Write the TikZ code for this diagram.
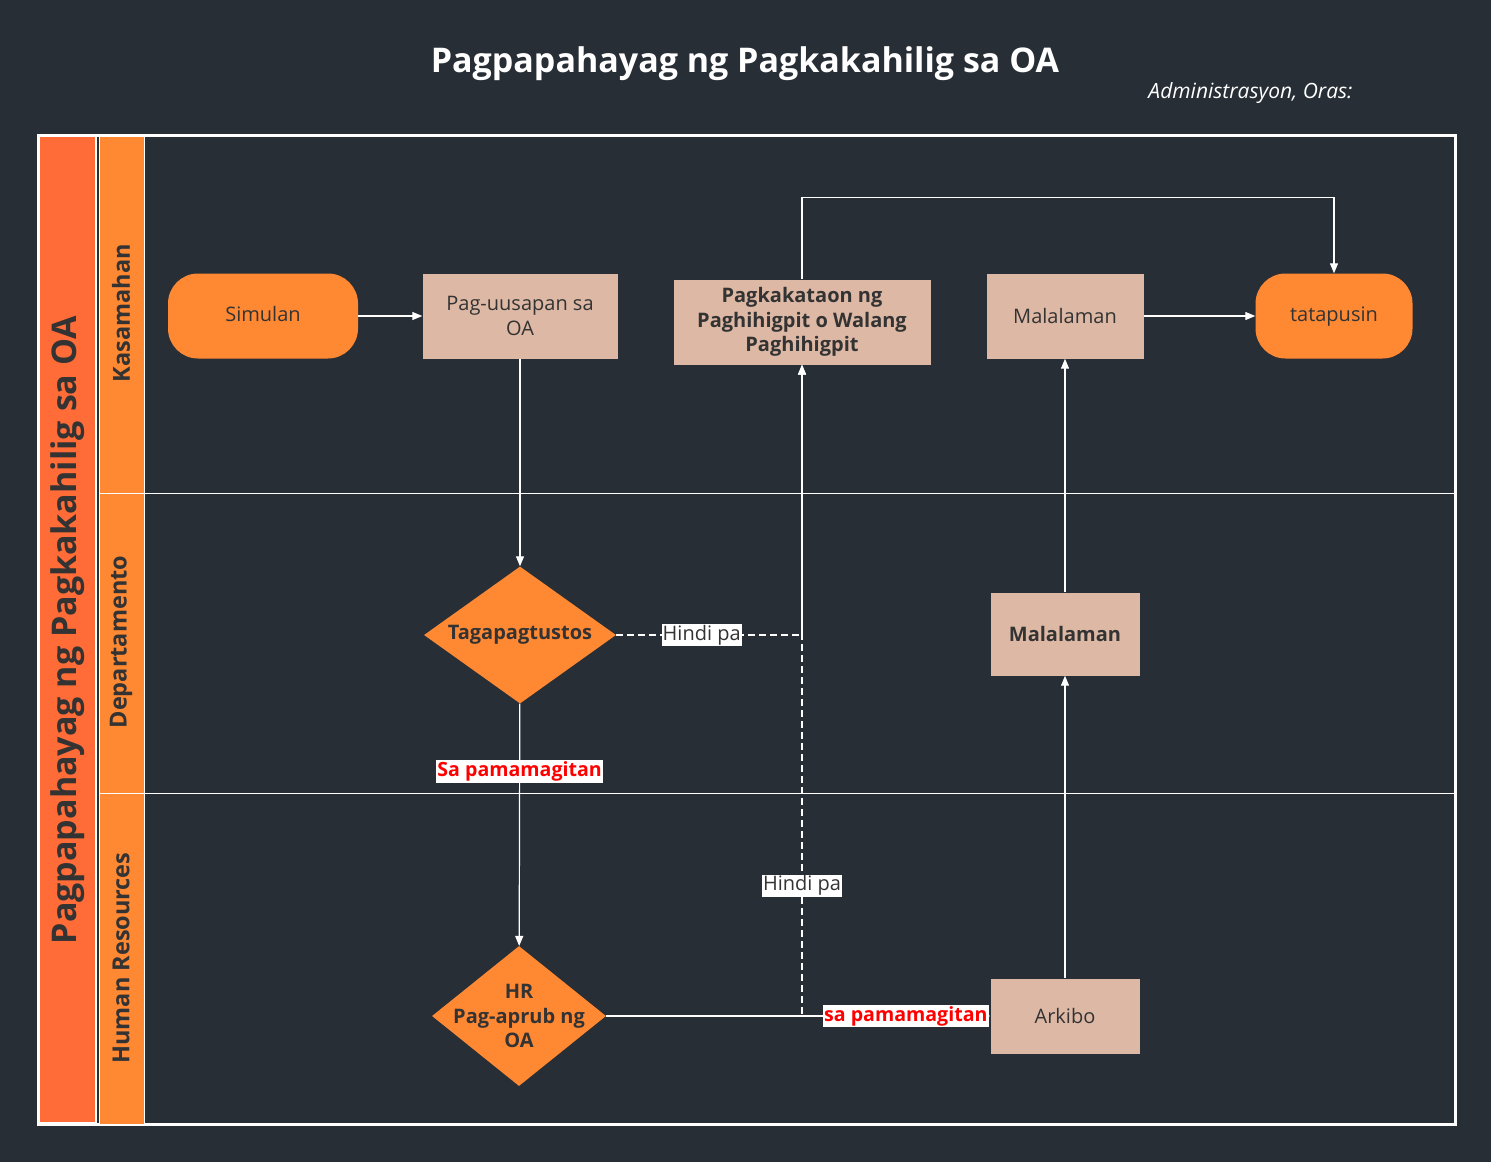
\documentclass[tikz,border=0pt]{standalone}
\usepackage{fontspec}
\setmainfont{Open Sans}
\usepackage{tikz}
\usetikzlibrary{arrows.meta,shapes.geometric}
\definecolor{bgdark}{HTML}{272E35}
\definecolor{poolred}{HTML}{FF6C37}
\definecolor{laneorange}{HTML}{FF8833}
\definecolor{tanbox}{HTML}{DDB8A5}
\definecolor{ink}{HTML}{333333}

\begin{document}
\begin{tikzpicture}[
  x=1pt,y=-1pt,
  term/.style={fill=laneorange,rounded corners=30pt,minimum width=#1,minimum height=85pt,text height=14pt,text depth=4pt,text=ink,font=\fontsize{20}{24.5}\selectfont},
  proc/.style={fill=tanbox,align=center,text=ink,font=\fontsize{20}{24.5}\selectfont},
  dia/.style={diamond,fill=laneorange,inner sep=0pt},
  bold/.style={align=center,text=ink,font=\fontsize{20}{24.5}\selectfont\bfseries},
  lanetext/.style={rotate=90,text=ink,font=\fontsize{23.5}{28}\selectfont\bfseries},
  line/.style={-{Triangle[length=10pt,width=8pt]},draw=white,line width=1.2pt},
  dashline/.style={dash pattern=on 7pt off 4pt},
  nolbl/.style={fill=white,text=ink,inner sep=1pt,font=\fontsize{20}{22}\selectfont},
  yeslbl/.style={fill=white,text=red,inner sep=1.5pt,font=\fontsize{19.6}{22}\selectfont\bfseries}
]
\fill[bgdark] (0,0) rectangle (1491,1162);
\useasboundingbox (0,0) rectangle (1491,1162);
\node[text=white,font=\fontsize{34}{40}\selectfont\bfseries] (title) at (745,64) {Pagpapahayag ng Pagkakahilig sa OA};
\node[anchor=east,text=white,font=\fontsize{21}{25}\selectfont\itshape] (admin) at (1356,93) {Administrasyon, Oras:};

\draw[white,line width=3pt] (38,135) rectangle (1455,1124);
\filldraw[fill=poolred,draw=white,line width=1.5pt] (39,136) rectangle (96,1123);
\filldraw[fill=laneorange,draw=white,line width=1pt] (99,136) rectangle (144,1124);
\draw[white,line width=1pt] (99,493) -- (1455,493);
\draw[white,line width=1pt] (99,793) -- (1455,793);
\node[rotate=90,text=ink,font=\fontsize{34}{40}\selectfont\bfseries] (pool) at (68,630) {Pagpapahayag ng Pagkakahilig sa OA};
\node[lanetext] (lane1) at (121,313) {Kasamahan};
\node[lanetext] (lane2) at (121,642) {Departamento};
\node[lanetext] (lane3) at (121,958) {Human Resources};

\node[term=190pt] (start) at (263,316) {Simulan};
\node[proc,minimum width=195pt,minimum height=85pt] (talk) at (520,316) {Pag-uusapan sa\\OA};
\node[proc,minimum width=257pt,minimum height=85pt,font=\fontsize{20}{24.5}\selectfont\bfseries] (chance) at (802,322) {Pagkakataon ng\\Paghihigpit o Walang\\Paghihigpit};
\node[proc,minimum width=157pt,minimum height=85pt] (know1) at (1065,316) {Malalaman};
\node[term=157pt] (finish) at (1334,316) {tatapusin};
\node[dia,minimum width=192pt,minimum height=137pt] (fund) at (520,635) {};
\node[bold] (fundtext) at (fund) {Tagapagtustos};
\node[proc,minimum width=149pt,minimum height=83pt,font=\fontsize{20}{24.5}\selectfont\bfseries] (know2) at (1065,634) {Malalaman};
\node[dia,minimum width=174pt,minimum height=140pt] (hr) at (519,1016) {};
\node[bold] (hrtext) at (hr) {HR\\Pag-aprub ng\\OA};
\node[proc,minimum width=149pt,minimum height=75pt] (arch) at (1065,1016) {Arkibo};

\draw[line] (start) -- (talk);
\draw[line] (talk) -- (fund);
\draw[line] (fund) -- node[yeslbl,pos=0.28]{Sa pamamagitan} (hr);
\draw[line,dashline] (fund.east) -| node[nolbl,pos=0.23]{Hindi pa} (chance.south);
\draw[line] (hr) -- node[yeslbl,pos=0.78]{sa pamamagitan} (arch);
\draw[line,dashline] (hr.east) -| node[nolbl,pos=0.6]{Hindi pa} (chance.south);
\draw[line] (arch) -- (know2);
\draw[line] (know2) -- (know1);
\draw[line] (know1) -- (finish);
\draw[line] (chance.north) -- ++(0,-82) -| (finish.north);
\end{tikzpicture}
\end{document}
